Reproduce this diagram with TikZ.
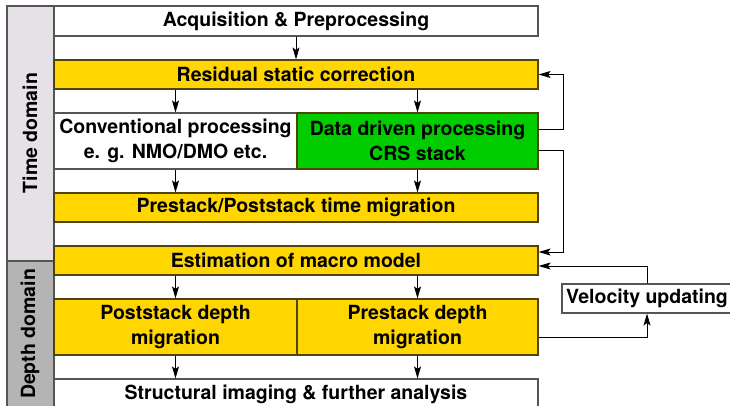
\documentclass[tikz,border=0pt]{standalone}
\usepackage{fontspec}
\setmainfont{TeX Gyre Heros}
\usetikzlibrary{arrows.meta,calc}
\definecolor{gold}{RGB}{255,214,0}
\definecolor{ddgreen}{RGB}{0,204,0}
\definecolor{yborder}{RGB}{80,68,10}
\definecolor{bordergray}{RGB}{85,85,85}
\definecolor{timegray}{RGB}{230,225,230}
\definecolor{depthgray}{RGB}{180,180,180}
\begin{document}
\begin{tikzpicture}[x=1pt,y=-1pt,
  box/.style={draw=bordergray, line width=1.1pt, inner sep=0pt, fill=white,
    font=\bfseries\fontsize{19.5}{24.5}\selectfont, align=center},
  ybox/.style={box, fill=gold, draw=yborder},
  gbox/.style={box, fill=ddgreen, draw=yborder},
  dlabel/.style={rotate=90, font=\bfseries\fontsize{19.5}{24.5}\selectfont},
  arr/.style={-{Stealth[length=12pt,width=7pt,inset=2.5pt]}, line width=1pt, black}]
\useasboundingbox (0,0) rectangle (730,406);
\clip (0,0) rectangle (730,406);
% domain columns
\filldraw[fill=timegray, draw=bordergray, line width=1.1pt] (7,6) rectangle (54,261);
\filldraw[fill=depthgray, draw=bordergray, line width=1.1pt] (7,261) rectangle (54,425);
\node[dlabel] (tdom) at (30,133) {Time domain};
\node[dlabel] (ddom) at (30,334) {Depth domain};
% boxes
\node[box, minimum width=484pt, minimum height=30pt] (acq) at (296,21) {Acquisition \& Preprocessing};
\node[ybox, minimum width=484pt, minimum height=29pt] (res) at (296,74.5) {Residual static correction};
\node[box, minimum width=243pt, minimum height=56pt] (conv) at (175.5,141) {Conventional processing\\e. g. NMO/DMO etc.};
\node[gbox, minimum width=241pt, minimum height=56pt] (ddp) at (417.5,141) {Data driven processing\\CRS stack};
\node[ybox, minimum width=484pt, minimum height=29pt] (ptm) at (296,207.5) {Prestack/Poststack time migration};
\node[ybox, minimum width=484pt, minimum height=29pt] (est) at (296,260.5) {Estimation of macro model};
\node[ybox, minimum width=243pt, minimum height=56pt] (psd) at (175.5,327) {Poststack depth\\migration};
\node[ybox, minimum width=241pt, minimum height=56pt] (prd) at (417.5,327) {Prestack depth\\migration};
\node[box, minimum width=484pt, minimum height=30pt] (str) at (296,394) {Structural imaging \& further analysis};
\node[box, minimum width=170pt, minimum height=29pt] (vel) at (647,298.5) {Velocity updating};
% vertical arrows
\draw[arr] (acq) -- (res);
\draw[arr] (res.south -| conv.north) -- (conv.north);
\draw[arr] (res.south -| ddp.north) -- (ddp.north);
\draw[arr] (conv.south) -- (conv.south |- ptm.north);
\draw[arr] (ddp.south) -- (ddp.south |- ptm.north);
\draw[arr] (est.south -| psd.north) -- (psd.north);
\draw[arr] (est.south -| prd.north) -- (prd.north);
\draw[arr] (psd.south) -- (psd.south |- str.north);
\draw[arr] (prd.south) -- (prd.south |- str.north);
% feedback loops
\coordinate (rail) at (563,0);
\draw[arr] ($(ddp.east)+(0,-11)$) -| (rail |- res.east) -- (res.east);
\draw[arr] ($(ddp.east)+(0,10)$) -| ($(rail |- est.east)+(0,-8.5)$) -- ($(est.east)+(0,-8.5)$);
\draw[arr] (vel.north) |- ($(est.east)+(0,5.5)$);
\draw[arr] ($(prd.east)+(0,10)$) -| (vel.south);
\end{tikzpicture}
\end{document}
